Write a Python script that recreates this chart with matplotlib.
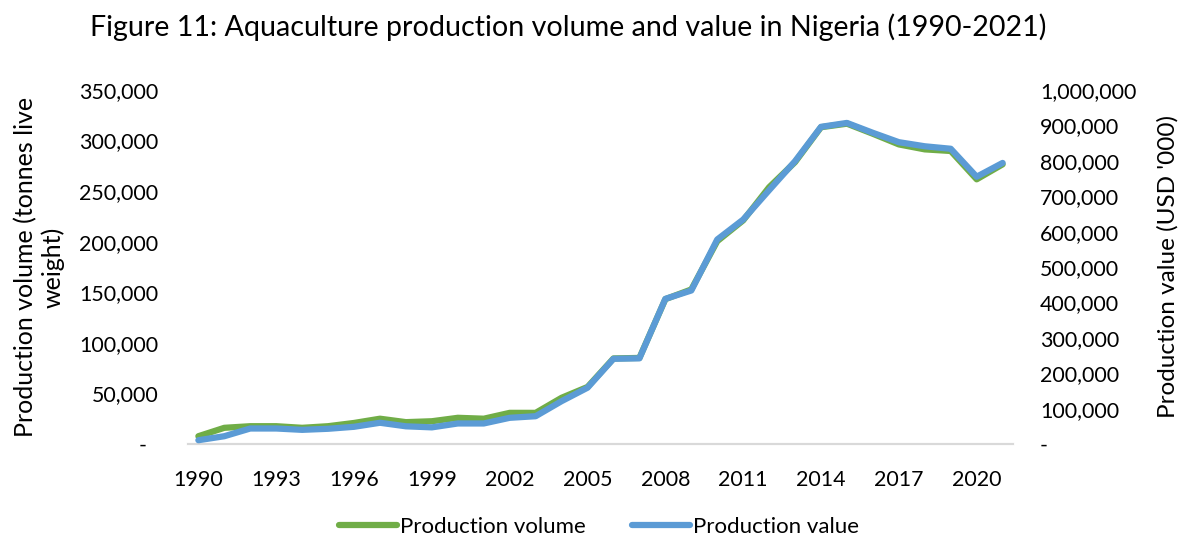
import matplotlib
matplotlib.use("Agg")
import matplotlib.pyplot as plt
from matplotlib.ticker import FuncFormatter

years = list(range(1990, 2022))
volume = [7700, 16000, 17600, 17600, 16000, 17600, 20800, 25000, 21600, 22500,
          25900, 25000, 30800, 30800, 45700, 56400, 84600, 85100, 143200, 152800,
          200500, 221100, 253900, 278700, 313200, 316700, 306700, 296200, 291300, 289700,
          261700, 276500]
value = [10700, 22000, 43800, 43800, 40000, 43000, 48600, 60000, 50000, 47000,
         58000, 58000, 74000, 78500, 121000, 159000, 240700, 242000, 410000, 433600,
         577700, 634000, 717000, 799000, 896000, 907000, 879000, 852600, 841000, 834000,
         755000, 794000]
xtick_labels = [str(y) for y in years[::3]]

plt.rcParams['font.family'] = ['Lato', 'DejaVu Sans']

fig = plt.figure(figsize=(11.82, 5.37), dpi=100)
ax = fig.add_axes([188/1182, 1-444/537, (1013-188)/1182, (444-90)/537])
ax2 = ax.twinx()

x = list(range(len(years)))
lv, = ax.plot(x, volume, color='#70AD47', lw=4.5, solid_capstyle='round', solid_joinstyle='round', zorder=2)
lval, = ax2.plot(x, value, color='#5B9BD5', lw=4.5, solid_capstyle='round', solid_joinstyle='round', zorder=3)

ax.set_xlim(-0.4, len(years) - 0.6)
ax.set_ylim(0, 350000)
ax2.set_ylim(0, 1000000)
ax.set_yticks(range(0, 350001, 50000))
ax2.set_yticks(range(0, 1000001, 100000))
ax.set_xticks(x[::3])
ax.set_xticklabels(xtick_labels)

def fmt_left(v, p):
    return "-  " if v == 0 else f"{int(v):,}"
def fmt_right(v, p):
    return "-" if v == 0 else f"{int(v):,}"
ax.yaxis.set_major_formatter(FuncFormatter(fmt_left))
ax2.yaxis.set_major_formatter(FuncFormatter(fmt_right))

for a in (ax, ax2):
    for s in ['top', 'left', 'right']:
        a.spines[s].set_visible(False)
    a.spines['bottom'].set_color('#d9d9d9')
    a.spines['bottom'].set_linewidth(1.5)
    a.tick_params(length=0, labelsize=15.4, colors='black')
ax.tick_params(axis='y', pad=21.5)
ax2.tick_params(axis='y', pad=19.5)
ax.tick_params(axis='x', pad=19)

ax.set_ylabel("Production volume (tonnes live\nweight)", fontsize=18, labelpad=10)
ax2.set_ylabel("Production value (USD '000)", fontsize=17.5, rotation=90, labelpad=15)

fig.suptitle("Figure 11: Aquaculture production volume and value in Nigeria (1990-2021)",
             fontsize=20.6, x=0.481, y=0.975)

fig.legend([lv, lval], ["Production volume", "Production value"], loc='center',
           bbox_to_anchor=(0.507, 1-527/537), ncol=2, frameon=False, fontsize=16,
           handlelength=2.6, handletextpad=0.14, columnspacing=2.1)

fig.savefig("out.png", dpi=100)
